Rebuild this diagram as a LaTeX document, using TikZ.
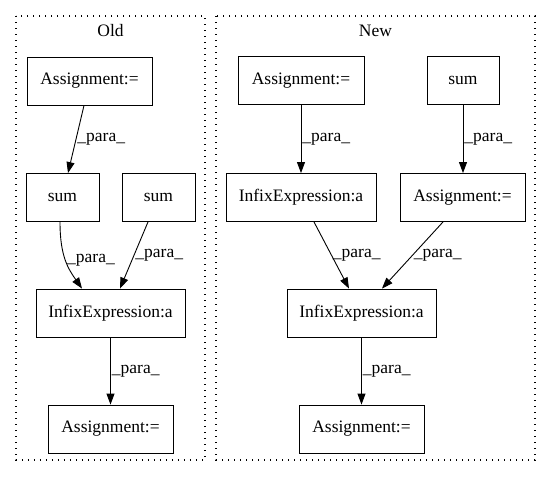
\documentclass[tikz,border=0pt]{standalone}
\usepackage{fontspec}
\setmainfont{Liberation Serif}
\usetikzlibrary{arrows.meta}
\tikzset{
  box/.style={draw, line width=0.9pt, rectangle, minimum height=48pt, inner xsep=6pt, font=\fontsize{17.5pt}{20pt}\selectfont},
  cluster/.style={draw, line width=1.1pt, dash pattern=on 1.1pt off 4.9pt},
  ctitle/.style={font=\fontsize{17.5pt}{20pt}\selectfont},
  edge/.style={draw, line width=0.9pt, -{Triangle[length=11pt,width=8pt]}},
  lab/.style={font=\fontsize{17.5pt}{20pt}\selectfont, inner sep=1pt, anchor=west}
}
\begin{document}
\begin{tikzpicture}[x=1pt,y=-1pt]
\useasboundingbox (0,0) rectangle (552,480);
% clusters
\draw[cluster] (16,16) rectangle (205,460);
\draw[cluster] (216,16) rectangle (535,460);
\node[ctitle] (told) at (110.5,31) {Old};
\node[ctitle] (tnew) at (375.5,31) {New};
% Old nodes
\node[box, minimum width=125pt] (oa1) at (89.5,81) {Assignment:=};
\node[box, minimum width=73pt] (osl) at (62.5,197.5) {sum};
\node[box, minimum width=73pt] (osr) at (158.5,197.5) {sum};
\node[box, minimum width=149pt] (oinf) at (110.5,313) {InfixExpression:a};
\node[box, minimum width=125pt] (oa2) at (110.5,429) {Assignment:=};
% New nodes
\node[box, minimum width=126pt] (na1) at (301,80.5) {Assignment:=};
\node[box, minimum width=72pt] (ns) at (463,80.5) {sum};
\node[box, minimum width=150pt] (ninf1) at (301,197.5) {InfixExpression:a};
\node[box, minimum width=125pt] (na2) at (462.5,197.5) {Assignment:=};
\node[box, minimum width=149pt] (ninf2) at (361.5,313) {InfixExpression:a};
\node[box, minimum width=125pt] (na3) at (361.5,429) {Assignment:=};
% Old edges
\draw[edge] ([xshift=-5.5pt]oa1.south) -- node[lab, pos=0.5] {\_para\_} ([xshift=5.5pt]osl.north);
\draw[edge] ([xshift=-2.5pt]osl.south) .. controls ++(0,34) and ++(-14,-20) .. node[lab, pos=0.5] {\_para\_} ([xshift=-28.5pt]oinf.north);
\draw[edge] ([xshift=-10.5pt]osr.south) -- node[lab, pos=0.5] {\_para\_} ([xshift=9.5pt]oinf.north);
\draw[edge] (oinf.south) -- node[lab, pos=0.5] {\_para\_} (oa2.north);
% New edges
\draw[edge] (na1.south) -- node[lab, pos=0.5] {\_para\_} (ninf1.north);
\draw[edge] (ns.south) -- node[lab, pos=0.5] {\_para\_} ([xshift=0.5pt]na2.north);
\draw[edge] ([xshift=13pt]ninf1.south) -- node[lab, pos=0.5] {\_para\_} ([xshift=-12.5pt]ninf2.north);
\draw[edge] ([xshift=-19.5pt]na2.south) -- node[lab, pos=0.5] {\_para\_} ([xshift=20.5pt]ninf2.north);
\draw[edge] (ninf2.south) -- node[lab, pos=0.5] {\_para\_} (na3.north);
\end{tikzpicture}
\end{document}
